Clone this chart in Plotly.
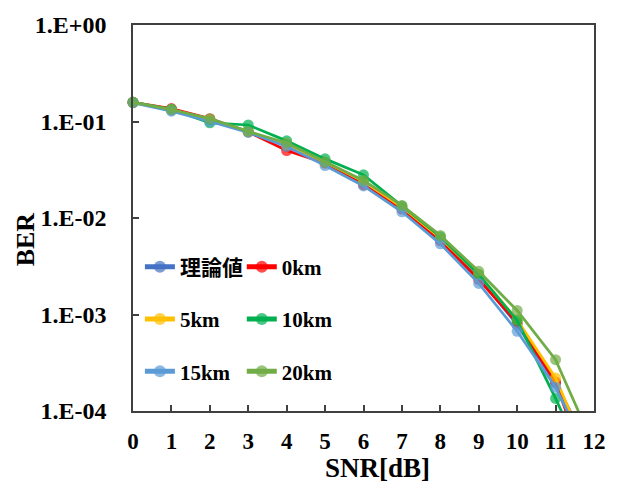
import plotly.graph_objects as go

snr_db = [0, 1, 2, 3, 4, 5, 6, 7, 8, 9, 10, 11, 12]

ber_theory = [0.1587, 0.1309, 0.1040, 0.0789, 0.0565, 0.0377, 0.0230, 0.0126, 0.0060, 0.00241, 0.00078, 0.000194, 3.4e-5]
ber_0km = [0.158, 0.136, 0.107, 0.078, 0.050, 0.037, 0.022, 0.0124, 0.0058, 0.0023, 0.00082, 0.00020, 1.5e-5]
ber_5km = [0.158, 0.133, 0.104, 0.079, 0.057, 0.038, 0.024, 0.0130, 0.0062, 0.0026, 0.00088, 0.00022, 2.6e-5]
ber_10km = [0.158, 0.134, 0.097, 0.092, 0.063, 0.041, 0.028, 0.0133, 0.0064, 0.0026, 0.00087, 0.000135, 1.8e-5]
ber_15km = [0.156, 0.128, 0.100, 0.077, 0.055, 0.035, 0.0215, 0.0116, 0.0054, 0.0021, 0.00067, 0.000176, 2.7e-5]
ber_20km = [0.158, 0.133, 0.107, 0.079, 0.060, 0.038, 0.0245, 0.0135, 0.0066, 0.0028, 0.00110, 0.00034, 4.3e-5]

series_names = ["理論値", "0km", "5km", "10km", "15km", "20km"]
series_values = [ber_theory, ber_0km, ber_5km, ber_10km, ber_15km, ber_20km]
series_colors = ["#4472C4", "#FF0000", "#FFC000", "#00B050", "#5B9BD5", "#70AD47"]
legend_ids = ["legend", "legend2", "legend", "legend2", "legend", "legend2"]

y_tickvals = [1, 0.1, 0.01, 0.001, 0.0001]
y_ticktext = ["1.E+00", "1.E-01", "1.E-02", "1.E-03", "1.E-04"]
x_tickvals = list(range(0, 13))
Y_MIN = 1e-4

FONT = "Liberation Serif, 'Times New Roman', 'Noto Sans CJK JP', serif"

fig = go.Figure()
for name, vals, color, lg in zip(series_names, series_values, series_colors, legend_ids):
    # markers below the axis floor are not drawn; the line itself is clipped
    sizes = [11 if v >= Y_MIN else 0 for v in vals]
    fig.add_trace(go.Scatter(
        x=snr_db, y=vals, name=name, mode="lines+markers",
        line=dict(color=color, width=2.75),
        marker=dict(color=color, size=sizes, line=dict(width=0)),
        legend=lg, legendgroup=name,
        cliponaxis=False,
    ))

legend_common = dict(
    font=dict(family=FONT, size=21, color="#000000", weight="bold"),
    bgcolor="rgba(0,0,0,0)",
    traceorder="grouped",
    tracegroupgap=22,
    itemwidth=30,
    itemsizing="constant",
    xanchor="left", yanchor="top",
)

fig.update_layout(
    width=636, height=490,
    margin=dict(l=133, r=42, t=19, b=79),
    paper_bgcolor="white", plot_bgcolor="white",
    font=dict(family=FONT, size=20, color="#000000", weight="bold"),
    legend=dict(x=0.015, y=0.426, **legend_common),
    legend2=dict(x=0.236, y=0.426, **legend_common),
    xaxis=dict(
        range=[0, 12], tickvals=x_tickvals,
        ticks="inside", ticklen=6, tickcolor="#404040", tickwidth=1.5,
        showline=True, linecolor="#404040", linewidth=1.5, mirror=True,
        showgrid=False, zeroline=False,
        tickfont=dict(family=FONT, size=23, color="#000000", weight="bold"),
        ticklabelstandoff=9,
    ),
    yaxis=dict(
        type="log", range=[-4, 0], tickvals=y_tickvals, ticktext=y_ticktext,
        ticks="inside", ticklen=6, tickcolor="#404040", tickwidth=1.5,
        showline=True, linecolor="#404040", linewidth=1.5, mirror=True,
        showgrid=False, zeroline=False,
        tickfont=dict(family=FONT, size=24, color="#000000", weight="bold"),
        ticklabelstandoff=20,
    ),
    annotations=[
        dict(text="SNR[dB]", xref="paper", yref="paper", x=0.531, y=-0.148,
             xanchor="center", yanchor="middle", showarrow=False,
             font=dict(family=FONT, size=27, color="#000000", weight="bold")),
        dict(text="BER", xref="paper", yref="paper", x=-0.234, y=0.445,
             xanchor="center", yanchor="middle", textangle=-90, showarrow=False,
             font=dict(family=FONT, size=26, color="#000000", weight="bold")),
    ],
)

fig.write_html("out.html")
